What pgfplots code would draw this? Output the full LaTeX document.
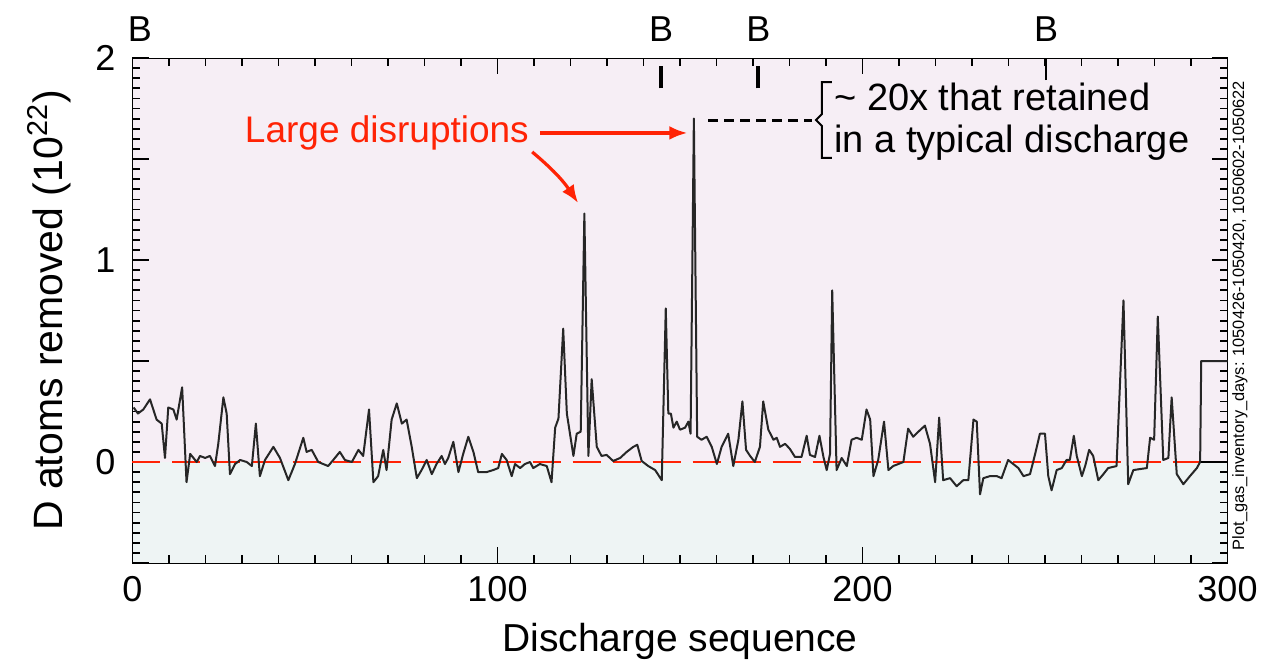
\documentclass[border=0pt]{standalone}
\usepackage{fontspec}
\setmainfont{Liberation Sans}
\usepackage{pgfplots}
\pgfplotsset{compat=1.18}
\usetikzlibrary{arrows.meta}
\definecolor{upbg}{RGB}{246,238,245}
\definecolor{lowbg}{RGB}{238,244,244}
\definecolor{annred}{RGB}{255,35,5}
\begin{document}
\begin{tikzpicture}
\begin{axis}[
  set layers=standard,
  at={(0,0)}, anchor=south west,
  scale only axis, width=547.5pt, height=252.5pt,
  xmin=0, xmax=300, ymin=-0.5, ymax=2,
  clip=false,
  line width=1pt,
  xtick={0,100,200,300},
  minor xtick={10,20,30,40,50,60,70,80,90,110,120,130,140,150,160,170,180,190,210,220,230,240,250,260,270,280,290},
  ytick={-0.5,0,0.5,1,1.5,2}, yticklabels={,0,,1,,2},
  minor y tick num=9,
  tick pos=both, tick align=inside,
  major tick length=8pt, minor tick length=4pt,
  every tick/.style={black, line width=0.9pt},
  every minor tick/.style={black, line width=0.9pt},
  /pgf/number format/assume math mode=true,
  tick label style={font=\fontsize{18}{20}\selectfont},
  yticklabel style={xshift=-5pt},
  xticklabel style={yshift=-3pt},
  xlabel={Discharge sequence},
  xlabel style={font=\fontsize{19.5}{21}\selectfont, at={(axis description cs:0.5,-0.176)}, anchor=base},
  ylabel={D atoms removed (10\textsuperscript{22})},
  ylabel style={font=\fontsize{20.5}{22}\selectfont, at={(axis description cs:-0.064,0.5)}, anchor=base},
]
\addplot[draw=none, fill=upbg, on layer=axis background] coordinates {(0,0) (300,0) (300,2) (0,2)} \closedcycle;
\addplot[draw=none, fill=lowbg, on layer=axis background] coordinates {(0,-0.5) (300,-0.5) (300,0) (0,0)} \closedcycle;
\addplot[annred, line width=1.1pt, dash pattern=on 14pt off 6pt] coordinates {(0,0) (300,0)};
\addplot[black!85, line width=1pt, line join=round] coordinates {
(0.3,0.27) (1.5,0.24) (2.96,0.26) (4.8,0.31) (6.6,0.21) (8.0,0.19) (8.9,0.02) (9.8,0.27) (11.2,0.26) (12.1,0.21) (13.6,0.37) (14.8,-0.10) (15.8,0.04) (17.6,0.0) (18.5,0.03) (19.9,0.02) (21.2,0.03) (22.6,-0.02) (23.5,0.09) (24.9,0.32) (25.8,0.24) (26.7,-0.06) (28.1,-0.01) (29.5,0.01) (31.3,0) (32.7,-0.02) (33.8,0.19) (34.9,-0.07) (36.3,0.01) (38.6,0.075) (40.4,0.02) (42.7,-0.09) (44.5,-0.01) (46.8,0.12) (47.7,0.05) (49.1,0.06) (50.9,0) (53.6,-0.02) (55.0,0.01) (56.8,0.05) (58.2,0.01) (60.1,0) (61.9,0.06) (63.2,0.03) (64.8,0.26) (66.0,-0.10) (67.3,-0.07) (68.7,0.06) (69.6,-0.04) (71.0,0.21) (72.4,0.29) (73.8,0.19) (75.1,0.21) (76.5,0.075) (77.9,-0.08) (79.2,-0.04) (80.6,0.01) (82.0,-0.06) (83.3,-0.01) (84.7,0.03) (85.6,-0.01) (86.5,0.02) (87.9,0.10) (89.3,-0.05) (90.6,0.04) (92.0,0.125) (93.4,0.05) (94.7,-0.05) (97.0,-0.05) (98.8,-0.04) (100.2,-0.03) (101.2,0.04) (102.5,0.01) (103.9,-0.07) (104.8,-0.01) (106.2,-0.03) (107.5,-0.01) (108.9,0) (109.8,-0.03) (111.6,-0.01) (113.5,-0.02) (114.8,-0.10) (115.8,0.17) (116.7,0.215) (118.0,0.66) (119.0,0.24) (120.8,0.03) (121.7,0.14) (122.8,0.15) (123.8,1.23) (124.9,0.03) (125.8,0.41) (127.2,0.075) (128.5,0.03) (129.9,0.035) (131.7,0.005) (133.6,0.02) (135.4,0.05) (137.2,0.075) (138.3,0.085) (139.5,0.005) (141.3,-0.02) (143.2,-0.04) (145.0,-0.09) (146.1,0.76) (146.8,0.24) (147.5,0.24) (148.2,0.17) (149.1,0.20) (150.0,0.16) (151.4,0.17) (152.3,0.20) (152.9,0.14) (153.8,1.7) (154.7,0.125) (155.9,0.11) (157.3,0.125) (158.7,0.075) (160.1,-0.01) (161.4,0.075) (163.2,0.14) (164.6,-0.02) (166.0,0.11) (167.1,0.30) (168.1,0.06) (169.2,0.03) (170.5,0) (171.9,0.075) (172.8,0.30) (174.2,0.16) (175.6,0.11) (176.5,0.12) (177.4,0.075) (178.8,0.09) (180.1,0.065) (181.5,0.025) (183.3,0.025) (184.7,0.13) (185.6,0.035) (187.0,0.025) (188.2,0.13) (189.3,0.025) (190.2,-0.04) (191.1,0.04) (191.7,0.85) (192.9,-0.04) (194.3,0.02) (195.7,-0.02) (197.0,0.11) (198.4,0.12) (199.8,0.11) (201.1,0.26) (202.1,0.21) (203.0,-0.07) (204.3,0.01) (205.9,0.2) (207.1,-0.04) (208.4,-0.02) (209.8,-0.01) (211.2,0) (212.5,0.165) (213.9,0.125) (215.3,0.15) (217.1,0.18) (218.5,0.09) (219.9,-0.10) (221.0,0.22) (222.1,-0.09) (224.0,-0.08) (225.8,-0.12) (227.6,-0.09) (229.0,-0.09) (230.4,0.21) (231.3,0.20) (232.2,-0.16) (233.1,-0.08) (234.9,-0.07) (236.8,-0.07) (238.1,-0.08) (239.9,0.01) (241.3,-0.01) (242.7,-0.03) (244.1,-0.07) (245.9,-0.06) (247.3,0.04) (248.6,0.14) (250.0,0.14) (250.9,-0.07) (251.8,-0.14) (253.2,-0.04) (254.6,-0.03) (255.9,0.01) (256.8,0.01) (257.9,0.13) (258.7,0.03) (260.1,-0.07) (261.0,-0.02) (262.1,0.06) (263.2,0.03) (264.6,-0.09) (266.0,-0.06) (267.3,-0.03) (269.6,-0.02) (271.5,0.8) (272.8,-0.11) (274.2,-0.04) (276.0,-0.035) (277.9,-0.03) (278.8,0.12) (279.9,0.11) (280.9,0.72) (282.4,0.01) (283.8,0.02) (284.7,0.32) (286.1,-0.06) (287.9,-0.11) (289.7,-0.07) (291.6,-0.03) (292.5,0.0) (292.8,0.5) (300,0.5)
};
\addplot[black, line width=1pt] coordinates {(292.8,0) (300,0)};
% annotations
\node[annred, font=\fontsize{18.5}{21}\selectfont] at (axis cs:69.7,1.629) {Large disruptions};
\draw[annred, line width=1.6pt, -{Latex[length=9pt,width=7pt]}] (axis cs:111.6,1.629) -- (axis cs:152.0,1.629);
\draw[annred, line width=1.6pt, -{Latex[length=9pt,width=7pt]}] (axis cs:109.5,1.535) to[bend left=8] (axis cs:122.1,1.282);
\draw[black, line width=1.5pt, dash pattern=on 5pt off 3pt] (axis cs:157.7,1.693) -- (axis cs:186.2,1.693);
\draw[black, line width=1pt] ([xshift=5pt]axis cs:188.9,1.881) -- (axis cs:188.9,1.881) -- ([yshift=3pt]axis cs:188.9,1.693) -- ([xshift=-3pt]axis cs:188.9,1.693) -- ([yshift=-3pt]axis cs:188.9,1.693) -- (axis cs:188.9,1.505) -- ([xshift=5pt]axis cs:188.9,1.505);
\node[anchor=west, align=left, font=\fontsize{19}{21}\selectfont, inner sep=0pt] at (axis cs:192.2,1.685) {\textasciitilde\ 20x that retained\\in a typical discharge};
% B markers
\node[font=\fontsize{18}{20}\selectfont] at (axis cs:2,2.144) {B};
\node[font=\fontsize{18}{20}\selectfont] at (axis cs:144.8,2.144) {B};
\node[font=\fontsize{18}{20}\selectfont] at (axis cs:171.5,2.144) {B};
\node[font=\fontsize{18}{20}\selectfont] at (axis cs:250.3,2.144) {B};
\draw[black, line width=2pt] (axis cs:144.8,1.85) -- (axis cs:144.8,1.96);
\draw[black, line width=2pt] (axis cs:171.5,1.85) -- (axis cs:171.5,1.96);
\draw[black, line width=1pt] (axis cs:250.3,1.89) -- (axis cs:250.3,2.0);
\node[rotate=90, font=\fontsize{8.2}{9}\selectfont, inner sep=0pt] at (rel axis cs:1.0114,0.49) {Plot\_gas\_inventory\_days: 1050426-1050420, 1050602-1050622};
\end{axis}
\pgfresetboundingbox
\path[use as bounding box] (-66.25pt,-51.5pt) rectangle (565.75pt,281.5pt);
\end{tikzpicture}
\end{document}
